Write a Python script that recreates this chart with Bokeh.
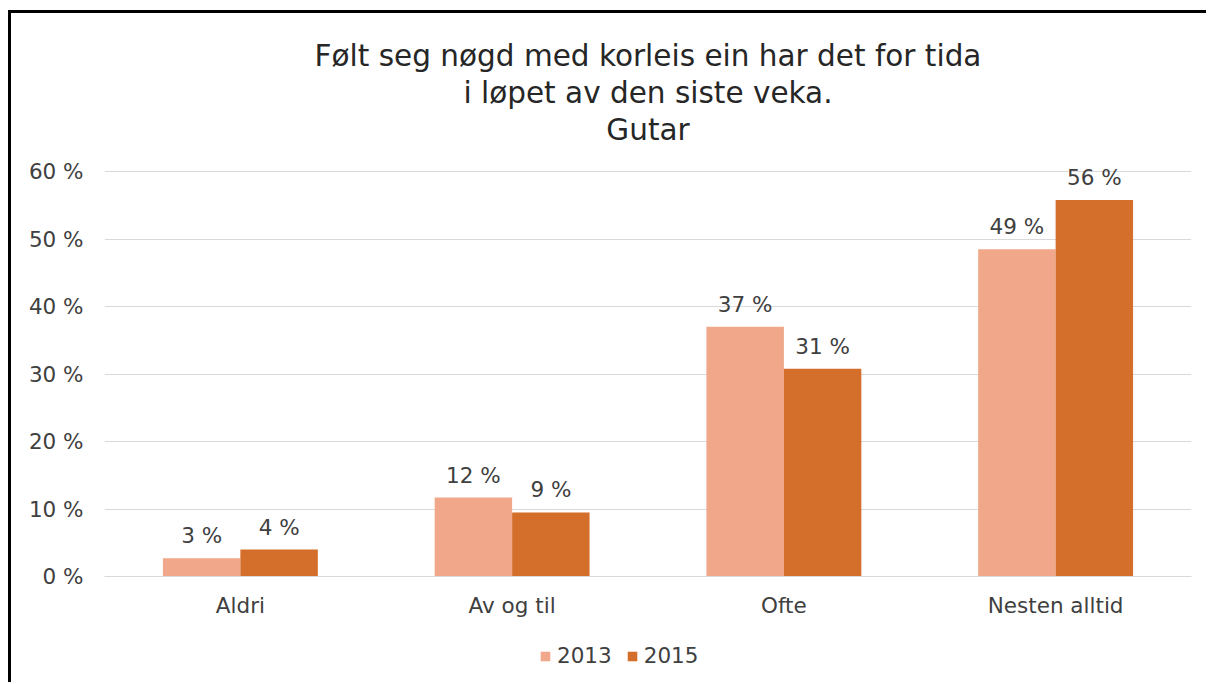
from bokeh.plotting import figure
from bokeh.layouts import column
from bokeh.models import (ColumnDataSource, FactorRange, Range1d, LabelSet, Legend,
                          LegendItem, Title, FixedTicker)
from bokeh.core.properties import value
from bokeh.transform import dodge
from bokeh.embed import file_html
from bokeh.resources import INLINE

# ---- data ----
categories = ["Aldri", "Av og til", "Ofte", "Nesten alltid"]
series_names = ["2013", "2015"]
values_2013 = [2.7, 11.7, 37.0, 48.5]
values_2015 = [4.0, 9.5, 30.8, 55.8]
labels_2013 = ["3 %", "12 %", "37 %", "49 %"]
labels_2015 = ["4 %", "9 %", "31 %", "56 %"]
y_ticks = [0, 10, 20, 30, 40, 50, 60]
y_tick_labels = ["0 %", "10 %", "20 %", "30 %", "40 %", "50 %", "60 %"]
title_lines = ["Følt seg nøgd med korleis ein har det for tida",
               "i løpet av den siste veka.",
               "Gutar"]

# ---- styles ----
FONT = "DejaVu Sans"
C2013 = "#F1A78A"
C2015 = "#D36F2B"
TXT = "#404040"
GRID = "#D9D9D9"
FS = "21.5px"

source = ColumnDataSource(dict(
    cat=categories,
    v2013=values_2013, v2015=values_2015,
    l2013=labels_2013, l2015=labels_2015,
))

# y range extends a little above the top gridline so value labels are not clipped
p = figure(width=1195, height=627, x_range=FactorRange(*categories),
           y_range=Range1d(0, 61.5), output_backend="svg", toolbar_location=None,
           title_location=None,
           min_border_left=93, min_border_right=15, min_border_top=148,
           min_border_bottom=64)
p.outline_line_color = None
p.background_fill_color = "white"
p.border_fill_color = "white"

# titles (added from nearest to plot outward); first a small spacer
p.add_layout(Title(text=" ", text_font_size="10px", standoff=2), "above")
for line, so in zip(reversed(title_lines), (0, 1, 2)):
    p.add_layout(Title(text=line, align="center", text_font=FONT,
                       text_font_size="29.5px", text_font_style="normal",
                       text_color="#262626", standoff=so), "above")

bw = 0.285
r1 = p.vbar(x=dodge("cat", -bw / 2, range=p.x_range), top="v2013", width=bw,
            source=source, fill_color=C2013, line_color=None)
r2 = p.vbar(x=dodge("cat", bw / 2, range=p.x_range), top="v2015", width=bw,
            source=source, fill_color=C2015, line_color=None)

for col, lab, off in (("v2013", "l2013", -bw / 2), ("v2015", "l2015", bw / 2)):
    p.add_layout(LabelSet(x=dodge("cat", off, range=p.x_range), y=col, text=lab,
                          source=source, text_align="center",
                          text_baseline="alphabetic", y_offset=15,
                          text_font=value(FONT), text_font_size=value(FS),
                          text_color=TXT))

# axes
p.yaxis.ticker = FixedTicker(ticks=y_ticks)
p.yaxis.major_label_overrides = {t: l for t, l in zip(y_ticks, y_tick_labels)}
p.yaxis.axis_line_color = None
p.yaxis.major_tick_line_color = None
p.yaxis.minor_tick_line_color = None
p.yaxis.major_label_standoff = 15
p.yaxis.major_label_text_font = FONT
p.yaxis.major_label_text_font_size = FS
p.yaxis.major_label_text_color = TXT

p.xaxis.axis_line_color = GRID
p.xaxis.major_tick_line_color = None
p.xaxis.minor_tick_line_color = None
p.xaxis.major_label_standoff = 10
p.xaxis.major_label_text_font = FONT
p.xaxis.major_label_text_font_size = FS
p.xaxis.major_label_text_color = TXT

p.xgrid.grid_line_color = None
p.ygrid.ticker = FixedTicker(ticks=y_ticks)
p.ygrid.grid_line_color = GRID

# ---- legend strip below the chart ----
q = figure(width=1195, height=42, x_range=FactorRange(*categories),
           y_range=Range1d(100, 101), output_backend="svg", toolbar_location=None,
           title_location=None, x_axis_location=None, y_axis_location=None,
           min_border=0)
q.outline_line_color = None
q.grid.grid_line_color = None
q.background_fill_color = "white"
q.border_fill_color = "white"
k1 = q.vbar(x=dodge("cat", -bw / 2, range=q.x_range), top="v2013", width=bw,
            source=source, fill_color=C2013, line_color=None)
k2 = q.vbar(x=dodge("cat", bw / 2, range=q.x_range), top="v2015", width=bw,
            source=source, fill_color=C2015, line_color=None)
legend = Legend(items=[LegendItem(label=series_names[0], renderers=[k1]),
                       LegendItem(label=series_names[1], renderers=[k2])],
                orientation="horizontal", location=(435, 14),
                border_line_color=None, background_fill_alpha=0,
                glyph_width=12, glyph_height=12, label_standoff=6, spacing=14,
                label_text_font=FONT, label_text_font_size=FS,
                label_text_color=TXT, margin=0, padding=0)
q.add_layout(legend, "center")

layout = column(p, q, spacing=0,
                styles={"margin-left": "8px", "margin-top": "10px",
                        "border-left": "3px solid black",
                        "border-top": "3px solid black"})

open("out.html", "w").write(file_html(layout, INLINE))
